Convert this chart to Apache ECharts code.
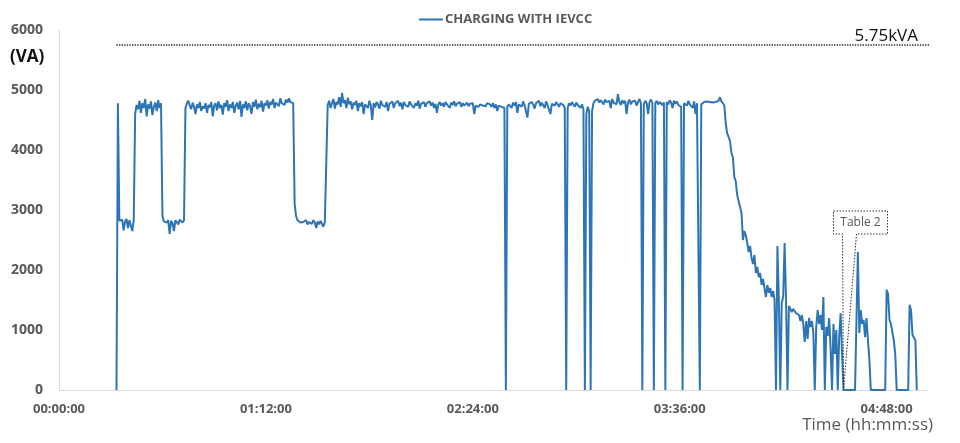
<!DOCTYPE html>
<html><head><meta charset="utf-8">
<script src="https://cdn.jsdelivr.net/npm/echarts@6/dist/echarts.min.js"></script>
<style>html,body{margin:0;padding:0;background:#fff}#c{width:960px;height:443px}</style>
</head><body><div id="c"></div>
<script>
// ---------- DATA ----------
const seriesName = 'CHARGING WITH IEVCC';
const startSec = 1200;      // time of first sample (s)
const stepSec = 30;         // sampling step (s)
const apparentPowerVA = [
  0, 4780,
  2820, 2790, 2840, 2660, 2810, 2850, 2700, 2830, 2800, 2650, 2830,
  4600, 4750, 4680, 4820, 4620, 4780, 4700, 4850, 4560, 4760, 4690, 4810, 4580, 4720, 4790, 4650, 4830, 4700, 4780,
  2900, 2810, 2840, 2790, 2830, 2600, 2820, 2780, 2650, 2830, 2800, 2760, 2840, 2810, 2790, 2830,
  4700, 4780, 4820, 4740, 4680, 4790, 4720, 4600, 4760, 4700,
  4800, 4650, 4730, 4690, 4780, 4620, 4750, 4710, 4800, 4560,
  4740, 4780, 4660, 4810, 4700, 4750, 4590, 4780, 4720, 4830,
  4650, 4760, 4700, 4800, 4620, 4740, 4790, 4680, 4820, 4550,
  4760, 4700, 4810, 4660, 4780, 4730, 4600, 4800, 4720, 4840,
  4680, 4770, 4710, 4820, 4640, 4780, 4740, 4830, 4690, 4800,
  4760, 4850, 4700, 4790, 4820, 4730, 4860, 4780, 4810, 4750,
  4840, 4790, 4860, 4800, 4830, 4780,
  3100, 2900, 2830, 2810, 2790, 2820, 2800, 2780, 2830, 2760, 2800, 2810, 2770, 2830, 2790, 2700, 2810, 2760, 2820, 2790, 2720, 2800, 2830,
  4750, 4820, 4700, 4780, 4850, 4690, 4800, 4760, 4880, 4720,
  4950, 4780, 4830, 4700, 4870, 4760, 4810, 4680, 4790, 4750,
  4820, 4650, 4780, 4730, 4800, 4600, 4760, 4790, 4700, 4820,
  4740, 4500, 4780, 4710, 4800, 4760, 4690, 4820, 4750, 4780,
  4720, 4800, 4650, 4770, 4740, 4810, 4700, 4780, 4760, 4820,
  4730, 4790, 4680, 4800, 4750, 4770, 4720, 4810, 4760, 4790,
  4700, 4780, 4740, 4820, 4690, 4770, 4750, 4800, 4720, 4780,
  4760, 4810, 4740, 4790, 4700, 4770, 4620, 4760, 4800, 4740,
  4780, 4720, 4800, 4760, 4780, 4700, 4790, 4750, 4810, 4730,
  4770, 4760, 4800, 4720, 4780, 4740, 4760, 4790, 4730, 4770,
  4750, 4780, 4600, 4740, 4770, 4720, 4760, 4790, 4740, 4770,
  4730, 4780, 4750, 4760, 4720, 4780, 4700, 4760, 4650, 4740,
  4770, 4720, 4750, 4700,
  0,
  4720, 4760, 4780, 4700, 4790, 4740, 4800, 4620, 4760, 4780,
  4720, 4810, 4750, 4780, 4540, 4770, 4740, 4800, 4760, 4690,
  4780, 4750, 4820, 4730, 4790, 4760, 4700, 4810, 4750, 4780,
  4600, 4770, 4790, 4740, 4800, 4760, 4720, 4780, 4810, 4750,
  4700,
  0,
  4700, 4780, 4740, 4800, 4760, 4720, 4790, 4750, 4780, 4700, 4760, 4680,
  0,
  4600, 4720, 4650,
  0,
  4650, 4780, 4820, 4800, 4850, 4790, 4830, 4810, 4760, 4840,
  4800, 4780, 4820, 4700, 4850, 4790, 4810, 4760, 4930, 4800,
  4750, 4830, 4780, 4820, 4600, 4790, 4840, 4760, 4810, 4780,
  4820, 4740, 4800, 4850, 4780,
  0,
  4760, 4820, 4780, 4600, 4800, 4840, 4790,
  0,
  4780, 4820, 4760, 4800, 4830, 4750, 4790,
  0,
  4800, 4760, 4830, 4790, 4700, 4820, 4770, 4810, 4750, 4780, 4720,
  0,
  4780, 4800, 4740, 4820, 4760, 4790, 4700, 4810, 4600, 4780, 4750,
  0,
  4760, 4780, 4800, 4790, 4810, 4780, 4800, 4820, 4790, 4810, 4800, 4830, 4820, 4880, 4810, 4800,
  4750, 4450, 4280, 4250, 4150, 3950, 3880, 3550, 3480, 3250,
  3150, 3050, 2950, 2500, 2650, 2580, 2450, 2300, 2400, 2200,
  2100, 2250, 1950, 2050, 1880, 1950, 1750, 1850, 1700, 1550,
  1750, 1620, 1700, 1550, 1650, 1500, 0, 2400, 1500, 0,
  1450, 1550, 2450, 1500, 0, 1400, 1350, 1300, 1350, 1320,
  1280, 1300, 1250, 1150, 1250, 1100, 800, 1150, 850, 1200,
  1050, 1150, 950, 0, 1050, 1330, 1100, 1250, 1000, 1550,
  0, 1050, 900, 1200, 700, 0, 1100, 600, 1000, 0,
  900, 1280, 600,
  0, 0, 0, 0, 0, 0, 0, 0, 0, 0,
  2300, 950, 1330, 1100, 1170, 880, 1200, 830, 500,
  0, 0, 0, 0, 0, 0, 0, 0, 0, 0, 0,
  1670, 1600, 1170, 1100, 1120, 830, 600,
  0, 0, 0, 0, 0, 0, 0, 0, 0,
  1420, 1330, 920, 950, 830,
  0
];
const limitVA = 5750;
const limitLabel = '5.75kVA';
const limitSec = [1200, 19500];
const xMin = 0, xMax = 18144, xStep = 4320;   // ticks every 01:12:00
const yMin = 0, yMax = 6000, yStep = 1000;
const yUnit = '(VA)';
const xTitle = 'Time (hh:mm:ss)';
const calloutText = 'Table 2';
const calloutPoint = [16380, 0];

// ---------- CHART ----------
const FONT = '"Open Sans", "DejaVu Sans", sans-serif';
const GREY = '#595959';
const BLUE = '#2E75B6';
const seriesData = apparentPowerVA.map((v, i) => [startSec + i * stepSec, v]);
const limitData = limitSec.map(t => [t, limitVA]);

function hms(v) {
  const h = Math.floor(v / 3600), m = Math.floor((v % 3600) / 60), s = Math.round(v % 60);
  const p = n => String(n).padStart(2, '0');
  return p(h) + ':' + p(m) + ':' + p(s);
}

const chart = echarts.init(document.getElementById('c'), null, {renderer: 'canvas'});
chart.setOption({
  animation: false,
  backgroundColor: '#fff',
  textStyle: {fontFamily: FONT},
  grid: {left: 59, right: 32, top: 30, bottom: 53, containLabel: false},
  legend: {
    data: [seriesName], left: 414, top: 8,
    icon: 'rect', itemWidth: 24, itemHeight: 2, itemGap: 5,
    itemStyle: {color: BLUE},
    textStyle: {color: GREY, fontWeight: 'bold', fontSize: 13, fontFamily: FONT, padding: [0, 0, 0, -3]}
  },
  xAxis: {
    type: 'value', min: xMin, max: xMax, interval: xStep,
    axisLine: {show: true, lineStyle: {color: '#d9d9d9', width: 1}},
    axisTick: {show: false}, splitLine: {show: false},
    axisLabel: {
      color: GREY, fontWeight: 'bold', fontSize: 13, margin: 13, fontFamily: FONT,
      showMaxLabel: false, hideOverlap: false,
      formatter: v => (v % xStep === 0 ? hms(v) : '')
    }
  },
  yAxis: {
    type: 'value', min: yMin, max: yMax, interval: yStep,
    axisLine: {show: true, lineStyle: {color: '#d9d9d9', width: 1}},
    axisTick: {show: false}, splitLine: {show: false},
    axisLabel: {color: GREY, fontWeight: 'bold', fontSize: 14, margin: 16, fontFamily: FONT,
      formatter: v => String(v)}
  },
  series: [
    {
      name: seriesName, type: 'line', data: seriesData,
      showSymbol: false, symbol: 'none',
      lineStyle: {color: BLUE, width: 2}, itemStyle: {color: BLUE},
      z: 3
    },
    {
      name: 'limit', type: 'line', data: limitData, clip: false,
      showSymbol: false, symbol: 'none', silent: true,
      lineStyle: {color: '#222', width: 1.3, type: [1.3, 1.3]},
      z: 2
    }
  ]
});

// annotations
const lim = chart.convertToPixel({gridIndex: 0}, [xMax, limitVA]);
const cp = chart.convertToPixel({gridIndex: 0}, calloutPoint);
const bl = cp[0] - 10, br = cp[0] + 44, bt = cp[1] - 179, bb = cp[1] - 156;
chart.setOption({
  graphic: [
    {type: 'text', left: 10, top: 49, style: {text: yUnit, fill: '#111', font: 'bold 17px ' + FONT}},
    {type: 'text', right: 27, top: 417, style: {text: xTitle, fill: GREY, font: '17px ' + FONT}},
    {type: 'text', x: 918, y: lim[1], style: {text: limitLabel, fill: '#111', font: '17px ' + FONT, align: 'right', verticalAlign: 'bottom'}},
    {type: 'polygon', z: 10, shape: {points: [[bl, bt], [br, bt], [br, bb], [cp[0] + 13, bb], [cp[0], cp[1]], [cp[0] - 1, bb], [bl, bb]]},
      style: {fill: 'rgba(255,255,255,0)', stroke: '#333', lineWidth: 1, lineDash: [1.5, 1.5]}},
    {type: 'text', z: 11, x: (bl + br) / 2, y: (bt + bb) / 2, style: {text: calloutText, fill: GREY, font: '12px ' + FONT, align: 'center', verticalAlign: 'middle'}}
  ]
});
</script></body></html>
